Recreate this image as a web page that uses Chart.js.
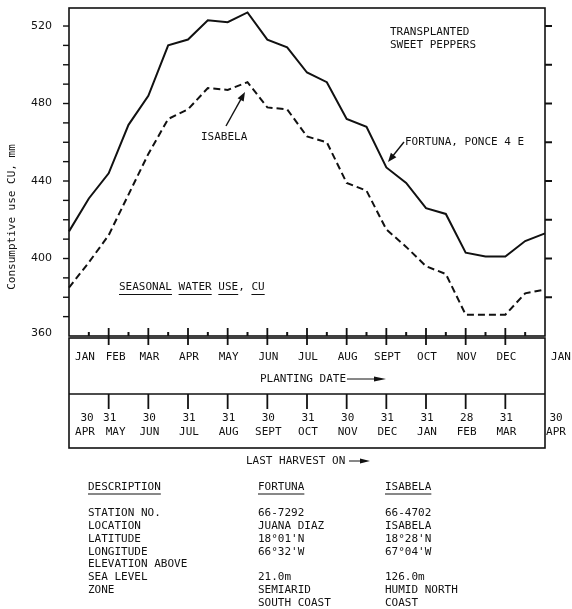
<!DOCTYPE html>
<html>
<head>
<meta charset="utf-8">
<script src="https://cdn.jsdelivr.net/npm/chart.js@4.4.0/dist/chart.umd.min.js"></script>
<style>
  html, body { margin: 0; padding: 0; background: #fff; }
  canvas { display: block; }
</style>
</head>
<body>
<canvas id="chart" width="572" height="609"></canvas>
<script>
// planting dates, twice a month
let plantingDates = [
  "JAN 1", "JAN 16", "FEB 1", "FEB 15", "MAR 1", "MAR 16", "APR 1", "APR 16",
  "MAY 1", "MAY 16", "JUN 1", "JUN 16", "JUL 1", "JUL 16", "AUG 1", "AUG 16",
  "SEP 1", "SEP 16", "OCT 1", "OCT 16", "NOV 1", "NOV 16", "DEC 1", "DEC 16", "JAN 1"
];
let fortunaCU = [414, 431, 444, 469, 484, 510, 513, 523, 522, 527, 513, 509, 496,
  491, 472, 468, 447, 439, 426, 423, 403, 401, 401, 409, 413];
let isabelaCU = [385, 398, 412, 433, 454, 472, 477, 488, 487, 491, 478, 477, 463,
  460, 439, 435, 415, 406, 396, 392, 371, 371, 371, 382, 384];

let yLabels = [360, 400, 440, 480, 520];
let plantingMonths = ["JAN", "FEB", "MAR", "APR", "MAY", "JUN", "JUL", "AUG",
  "SEPT", "OCT", "NOV", "DEC", "JAN"];
let harvestDays = ["30", "31", "30", "31", "31", "30", "31", "30", "31", "31", "28", "31", "30"];
let harvestMonths = ["APR", "MAY", "JUN", "JUL", "AUG", "SEPT", "OCT", "NOV", "DEC",
  "JAN", "FEB", "MAR", "APR"];

let descLabels = ["STATION NO.", "LOCATION", "LATITUDE", "LONGITUDE", "ELEVATION ABOVE",
  "SEA LEVEL", "ZONE", ""];
let fortunaDesc = ["66-7292", "JUANA DIAZ", "18°01'N", "66°32'W", "", "21.0m",
  "SEMIARID", "SOUTH COAST"];
let isabelaDesc = ["66-4702", "ISABELA", "18°28'N", "67°04'W", "", "126.0m",
  "HUMID NORTH", "COAST"];

let ink = "#111";
let font = '11px "DejaVu Sans Mono", monospace';

function arrow(ctx, x1, y1, x2, y2, len, half) {
  let a = Math.atan2(y2 - y1, x2 - x1);
  ctx.beginPath();
  ctx.moveTo(x1, y1);
  ctx.lineTo(x2 - Math.cos(a) * len * 0.6, y2 - Math.sin(a) * len * 0.6);
  ctx.stroke();
  ctx.beginPath();
  ctx.moveTo(x2, y2);
  ctx.lineTo(x2 - Math.cos(a) * len - Math.sin(a) * half, y2 - Math.sin(a) * len + Math.cos(a) * half);
  ctx.lineTo(x2 - Math.cos(a) * len + Math.sin(a) * half, y2 - Math.sin(a) * len - Math.cos(a) * half);
  ctx.closePath();
  ctx.fill();
}

// labels at the box ends sit inside / outside the frame
function edgeShift(k, last, first, second, end) {
  if (k === 0) return first;
  if (k === 1) return second;
  if (k === last) return end;
  return 1;
}

let figurePlugin = {
  id: "figure",
  afterDraw(chart) {
    let ctx = chart.ctx;
    let xs = chart.scales.x;
    let ys = chart.scales.y;
    let area = chart.chartArea;
    ctx.save();
    ctx.strokeStyle = ink;
    ctx.fillStyle = ink;
    ctx.font = font;

    // frame
    ctx.lineWidth = 1.6;
    ctx.strokeRect(area.left, area.top, area.right - area.left, area.bottom - area.top);

    // left ticks every 10, labels every 40
    ctx.lineWidth = 1.4;
    for (let v = 370; v <= 520; v += 10) {
      let py = ys.getPixelForValue(v);
      ctx.beginPath();
      ctx.moveTo(area.left - 6, py);
      ctx.lineTo(area.left, py);
      ctx.stroke();
    }
    ctx.textAlign = "right";
    ctx.textBaseline = "middle";
    ctx.font = '11px "DejaVu Sans", sans-serif';
    yLabels.forEach((v) => {
      ctx.fillText(String(v), area.left - 17, ys.getPixelForValue(v) - (v === 360 ? 3 : 0));
    });
    ctx.font = font;

    // right ticks every 20
    ctx.lineWidth = 2;
    for (let v = 380; v <= 520; v += 20) {
      let py = ys.getPixelForValue(v);
      ctx.beginPath();
      ctx.moveTo(area.right, py);
      ctx.lineTo(area.right + 7, py);
      ctx.stroke();
    }

    // bottom ticks
    for (let i = 1; i < plantingDates.length - 1; i++) {
      let px = xs.getPixelForValue(i);
      ctx.beginPath();
      if (i % 2 === 0) {
        ctx.lineWidth = 1.8;
        ctx.moveTo(px, area.bottom - 8);
        ctx.lineTo(px, area.bottom + 9);
      } else {
        ctx.lineWidth = 2;
        ctx.moveTo(px, area.bottom - 4);
        ctx.lineTo(px, area.bottom);
      }
      ctx.stroke();
    }

    // planting date box
    let boxTop = area.bottom + 2;
    let sep = 394;
    let boxBottom = 448;
    ctx.lineWidth = 1.6;
    ctx.strokeRect(area.left, boxTop, area.right - area.left, boxBottom - boxTop);
    ctx.beginPath();
    ctx.moveTo(area.left, sep);
    ctx.lineTo(area.right, sep);
    ctx.stroke();

    ctx.textAlign = "center";
    ctx.textBaseline = "middle";
    let lastM = plantingMonths.length - 1;
    plantingMonths.forEach((m, k) => {
      let px = xs.getPixelForValue(k * 2) + edgeShift(k, lastM, 16, 7, 16);
      ctx.fillText(m, px, 357);
    });
    ctx.textAlign = "left";
    ctx.fillText("PLANTING DATE", 260, 379);
    ctx.lineWidth = 1;
    arrow(ctx, 347, 379, 386, 379, 12, 2.5);

    // harvest ticks and labels
    ctx.lineWidth = 1.8;
    for (let i = 2; i < plantingDates.length - 1; i += 2) {
      let px = xs.getPixelForValue(i);
      ctx.beginPath();
      ctx.moveTo(px, sep);
      ctx.lineTo(px, sep + 15);
      ctx.stroke();
    }
    ctx.textAlign = "center";
    let lastH = harvestDays.length - 1;
    harvestDays.forEach((d, k) => {
      let px = xs.getPixelForValue(k * 2);
      ctx.fillText(d, px + edgeShift(k, lastH, 18, 1, 11), 418);
      ctx.fillText(harvestMonths[k], px + edgeShift(k, lastH, 16, 7, 11), 432);
    });
    ctx.textAlign = "left";
    ctx.fillText("LAST HARVEST ON", 246, 461);
    ctx.lineWidth = 1;
    arrow(ctx, 349, 461, 370, 461, 10, 2.5);

    // annotations
    ctx.fillText("TRANSPLANTED", 390, 32);
    ctx.fillText("SWEET PEPPERS", 390, 45);
    ctx.fillText("FORTUNA, PONCE 4 E", 405, 142);
    ctx.fillText("ISABELA", 201, 137);
    ctx.lineWidth = 1.4;
    arrow(ctx, 226, 126, 245, 92, 9, 3.5);
    arrow(ctx, 404, 142, 388, 162, 9, 3.5);

    let words = ["SEASONAL", "WATER", "USE,", "CU"];
    let wx = 119;
    ctx.lineWidth = 1;
    words.forEach((w) => {
      ctx.fillText(w, wx, 287);
      let ww = ctx.measureText(w.replace(",", "")).width;
      ctx.beginPath();
      ctx.moveTo(wx, 294.5);
      ctx.lineTo(wx + ww, 294.5);
      ctx.stroke();
      wx += ctx.measureText(w + " ").width;
    });

    // y title
    ctx.save();
    ctx.translate(12, 217);
    ctx.rotate(-Math.PI / 2);
    ctx.textAlign = "center";
    ctx.fillText("Consumptive use CU, mm", 0, 0);
    ctx.restore();

    // description table
    let cols = [88, 258, 385];
    let heads = ["DESCRIPTION", "FORTUNA", "ISABELA"];
    ctx.textAlign = "left";
    heads.forEach((h, k) => {
      ctx.fillText(h, cols[k], 487);
      ctx.beginPath();
      ctx.moveTo(cols[k], 494);
      ctx.lineTo(cols[k] + ctx.measureText(h).width, 494);
      ctx.stroke();
    });
    descLabels.forEach((t, r) => {
      let py = 513 + r * 12.9;
      ctx.fillText(t, cols[0], py);
      ctx.fillText(fortunaDesc[r], cols[1], py);
      ctx.fillText(isabelaDesc[r], cols[2], py);
    });

    ctx.restore();
  }
};

new Chart(document.getElementById("chart"), {
  type: "line",
  data: {
    labels: plantingDates,
    datasets: [
      {
        label: "FORTUNA, PONCE 4 E",
        data: fortunaCU,
        borderColor: ink,
        borderWidth: 2,
        pointRadius: 0,
        tension: 0,
      },
      {
        label: "ISABELA",
        data: isabelaCU,
        borderColor: ink,
        borderWidth: 2,
        borderDash: [7, 4],
        pointRadius: 0,
        tension: 0,
      },
    ],
  },
  options: {
    responsive: false,
    animation: false,
    layout: { padding: { left: 69, right: 27, top: 8, bottom: 273 } },
    plugins: { legend: { display: false }, tooltip: { enabled: false } },
    scales: {
      x: { type: "category", display: false, offset: false },
      y: { display: false, min: 360, max: 529.3 },
    },
  },
  plugins: [figurePlugin],
});
</script>
</body>
</html>
